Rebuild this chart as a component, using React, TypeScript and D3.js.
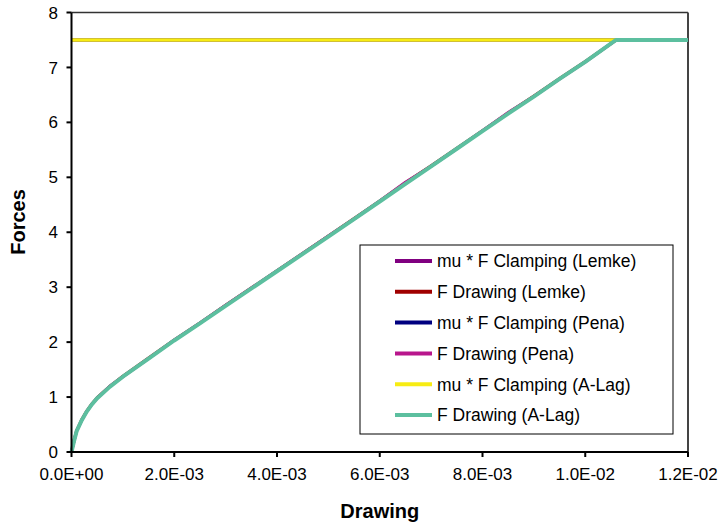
import React from "react";
import * as d3 from "d3";

// ---- data ----
const drawX = [0, 0.00005, 0.0001, 0.0002, 0.0003, 0.0004, 0.0005, 0.00075, 0.001, 0.0015, 0.002, 0.0025, 0.003, 0.004, 0.005, 0.0055, 0.006, 0.0065, 0.007, 0.0075, 0.008, 0.0085, 0.009, 0.0095, 0.010, 0.0106, 0.011, 0.0115, 0.012];
const fDrawLemke = [0, 0.21, 0.39, 0.59, 0.75, 0.88, 0.99, 1.2, 1.38, 1.71, 2.04, 2.35, 2.67, 3.3, 3.93, 4.25, 4.57, 4.9, 5.21, 5.53, 5.85, 6.17, 6.48, 6.8, 7.11, 7.5, 7.5, 7.5, 7.5];
const fDrawPena = [0, 0.2, 0.38, 0.58, 0.74, 0.87, 0.98, 1.2, 1.37, 1.7, 2.04, 2.35, 2.67, 3.3, 3.93, 4.24, 4.57, 4.91, 5.2, 5.52, 5.85, 6.18, 6.47, 6.79, 7.1, 7.5, 7.5, 7.5, 7.5];
const fDrawALag = [0, 0.2, 0.38, 0.58, 0.74, 0.87, 0.98, 1.19, 1.37, 1.7, 2.03, 2.34, 2.66, 3.29, 3.92, 4.24, 4.56, 4.88, 5.2, 5.52, 5.84, 6.16, 6.47, 6.79, 7.1, 7.5, 7.5, 7.5, 7.5];
const clampX = [0, 0.012];
const clampLemke = [7.5, 7.5];
const clampPena = [7.5, 7.5];
const clampALag = [7.5, 7.5];

const seriesNames = [
  "mu * F Clamping (Lemke)",
  "F Drawing (Lemke)",
  "mu * F Clamping (Pena)",
  "F Drawing (Pena)",
  "mu * F Clamping (A-Lag)",
  "F Drawing (A-Lag)",
];
const seriesColors = ["#800080", "#A00000", "#000080", "#B8168C", "#F7EC13", "#5CBF9F"];

const xTicks = [0, 0.002, 0.004, 0.006, 0.008, 0.010, 0.012];
const xTickLabels = ["0.0E+00", "2.0E-03", "4.0E-03", "6.0E-03", "8.0E-03", "1.0E-02", "1.2E-02"];
const yTicks = [0, 1, 2, 3, 4, 5, 6, 7, 8];

export default function App() {
  const W = 722, H = 528;
  const left = 71.5, right = 688, top = 12.5, bottom = 452;
  const x = d3.scaleLinear().domain([0, 0.012]).range([left, right]);
  const y = d3.scaleLinear().domain([0, 8]).range([bottom, top]);

  const mk = (xs: number[], ys: number[]) =>
    d3.line<number>().x((_, i) => x(xs[i])).y((d) => y(d))(ys) || "";

  const series = [
    { xs: clampX, ys: clampLemke, w: 3 },
    { xs: drawX, ys: fDrawLemke, w: 3 },
    { xs: clampX, ys: clampPena, w: 3 },
    { xs: drawX, ys: fDrawPena, w: 3 },
    { xs: clampX, ys: clampALag, w: 3.5 },
    { xs: drawX, ys: fDrawALag, w: 4 },
  ];

  const font = "'Liberation Sans', Arial, sans-serif";
  const legX = 360, legY = 245, legW = 313, legH = 189;
  const rowY0 = 261, rowDy = 30.8;

  return (
    <svg width={W} height={H} style={{ position: "absolute", left: 0, top: 0, background: "#fff" }} fontFamily={font}>
      <rect x={0} y={0} width={W} height={H} fill="#fff" />
      {/* frame */}
      <line x1={left} x2={right} y1={top} y2={top} stroke="#333" strokeWidth={1.5} />
      <line x1={right} x2={right} y1={top} y2={bottom} stroke="#444" strokeWidth={2} />
      {/* series */}
      {series.map((s, i) => (
        <path key={i} d={mk(s.xs, s.ys)} fill="none" stroke={seriesColors[i]} strokeWidth={s.w} strokeLinejoin="round" />
      ))}
      {/* axes */}
      <line x1={left} x2={left} y1={top} y2={bottom} stroke="#000" strokeWidth={2} />
      <line x1={left} x2={right} y1={bottom} y2={bottom} stroke="#000" strokeWidth={2} />
      {yTicks.map((t) => (
        <g key={t}>
          <line x1={left - 5} x2={left} y1={y(t)} y2={y(t)} stroke="#000" strokeWidth={2} />
          <text x={58} y={y(t)} dy="0.36em" textAnchor="end" fontSize={17} fill="#000">{t}</text>
        </g>
      ))}
      {xTicks.map((t, i) => (
        <g key={t}>
          <line x1={x(t)} x2={x(t)} y1={bottom} y2={bottom + 5} stroke="#000" strokeWidth={2} />
          <text x={x(t)} y={480} textAnchor="middle" fontSize={17} fill="#000">{xTickLabels[i]}</text>
        </g>
      ))}
      <text x={x(0.006)} y={518} textAnchor="middle" fontSize={20} fontWeight="bold">Drawing</text>
      <text transform={`translate(25, 222) rotate(-90)`} textAnchor="middle" fontSize={20} fontWeight="bold">Forces</text>
      {/* legend */}
      <rect x={legX} y={legY} width={legW} height={legH} fill="#fff" stroke="#000" strokeWidth={1} />
      {seriesNames.map((n, i) => (
        <g key={n}>
          <line x1={395} x2={432} y1={rowY0 + i * rowDy} y2={rowY0 + i * rowDy} stroke={seriesColors[i]} strokeWidth={4} />
          <text x={437} y={rowY0 + i * rowDy} dy="0.36em" fontSize={17.5} fill="#000">{n}</text>
        </g>
      ))}
    </svg>
  );
}
